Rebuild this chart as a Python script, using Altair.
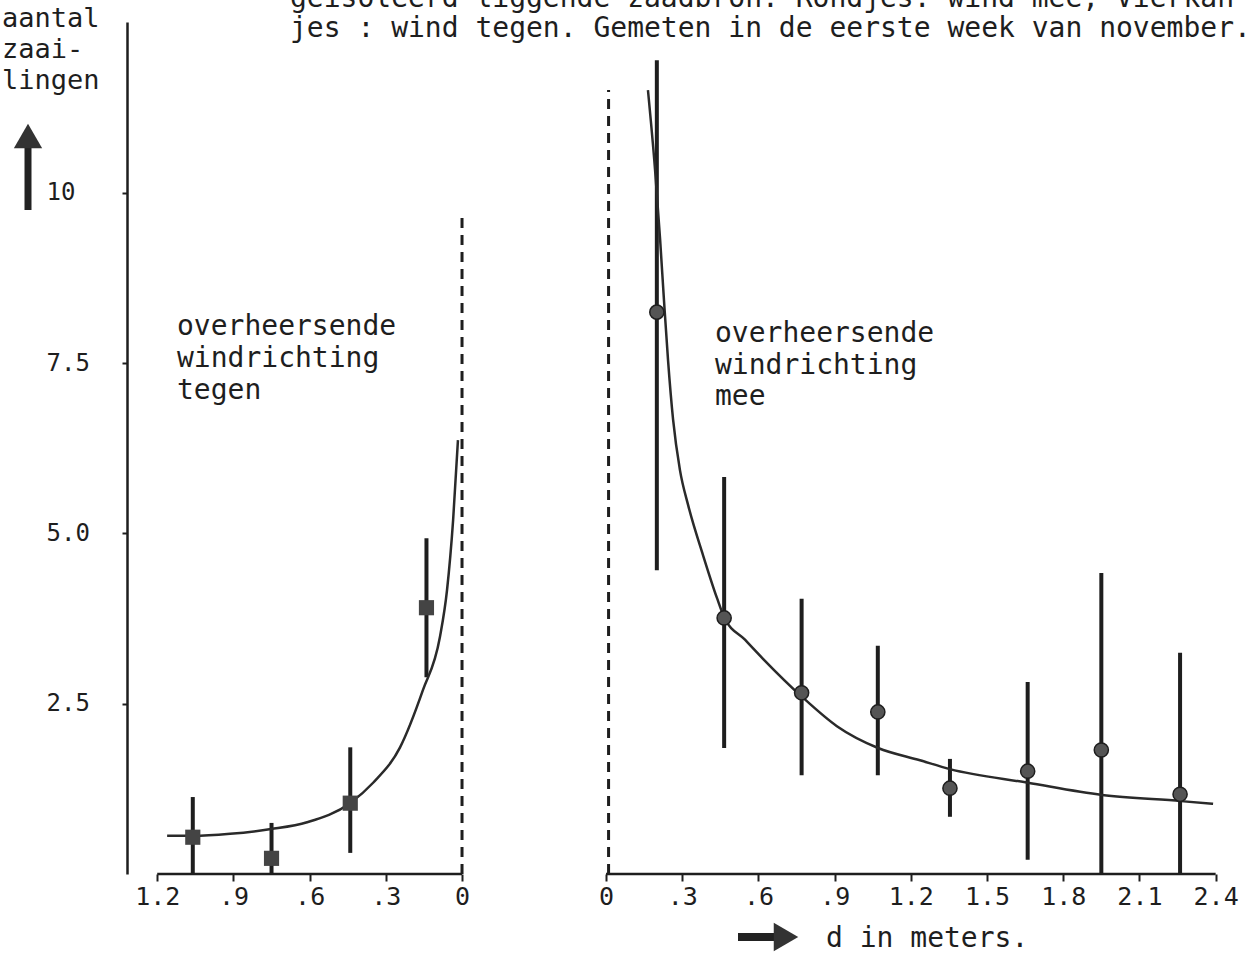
import altair as alt
import pandas as pd

# ---------------- data ----------------
# right panel: prevailing wind "mee" (circles)
MEE_D = [0.20, 0.465, 0.77, 1.07, 1.354, 1.66, 1.95, 2.26]
MEE_Y = [8.25, 3.76, 2.66, 2.38, 1.26, 1.51, 1.82, 1.17]
MEE_LO = [4.46, 1.85, 1.45, 1.45, 0.84, 0.21, 0.0, 0.0]
MEE_HI = [11.95, 5.83, 4.04, 3.35, 1.69, 2.82, 4.42, 3.25]

# left panel: prevailing wind "tegen" (squares)
TEGEN_D = [1.06, 0.75, 0.44, 0.14]
TEGEN_Y = [0.54, 0.23, 1.04, 3.91]
TEGEN_LO = [0.0, 0.0, 0.31, 2.89]
TEGEN_HI = [1.13, 0.75, 1.86, 4.93]

# fitted curves
TEGEN_CURVE_D = [1.161, 1.059, 0.913, 0.752, 0.610, 0.441, 0.350, 0.244, 0.154, 0.087, 0.059, 0.035, 0.016]
TEGEN_CURVE_Y = [0.56, 0.56, 0.59, 0.66, 0.76, 1.04, 1.34, 1.86, 2.70, 3.48, 4.17, 5.20, 6.37]
MEE_CURVE_D = [0.165, 0.193, 0.213, 0.228, 0.244, 0.264, 0.291, 0.323, 0.382, 0.437, 0.465,
               0.547, 0.618, 0.772, 0.909, 1.071, 1.236, 1.354, 1.661, 1.953, 2.264, 2.390]
MEE_CURVE_Y = [11.51, 10.34, 9.31, 8.43, 7.55, 6.67, 5.93, 5.42, 4.68, 4.05, 3.77,
               3.44, 3.16, 2.60, 2.17, 1.85, 1.67, 1.54, 1.34, 1.16, 1.07, 1.03]

# dashed source lines (d = 0) and their heights
DASH_LEFT_TOP = 9.68
DASH_RIGHT_TOP = 11.51

# axes
X_TICKS_LEFT = [1.2, 0.9, 0.6, 0.3, 0.0]
X_TICK_LABELS_LEFT = ["1.2", ".9", ".6", ".3", "0"]
X_TICKS_RIGHT = [0.0, 0.3, 0.6, 0.9, 1.2, 1.5, 1.8, 2.1, 2.4]
X_TICK_LABELS_RIGHT = ["0", ".3", ".6", ".9", "1.2", "1.5", "1.8", "2.1", "2.4"]
Y_TICKS = [2.5, 5.0, 7.5, 10.0]
Y_TICK_LABELS = ["2.5", "5.0", "7.5", "10"]

TITLE_1 = "geïsoleerd liggende zaadbron. Rondjes: wind mee; Vierkan"
TITLE_2 = "jes : wind tegen. Gemeten in de eerste week van november."
Y_LABEL = "aantal\nzaai-\nlingen"
X_LABEL = "d in meters."
NOTE_LEFT = "overheersende\nwindrichting\ntegen"
NOTE_RIGHT = "overheersende\nwindrichting\nmee"

# ---------------- layout ----------------
GAP = 0.567          # distance (in d units) between the two panel origins
U_MIN, U_MAX = -1.886, 2.555
Y_MAX = 12.51
W, H = 1128, 852
PAD = {"left": 127, "top": 22, "right": 5, "bottom": 80}
INK = "#1e1e1e"
FONT = "DejaVu Sans Mono"


def left_u(d):
    return -GAP - d


# tables
pts_mee = pd.DataFrame({"u": MEE_D, "v": MEE_Y, "lo": MEE_LO, "hi": MEE_HI})
pts_teg = pd.DataFrame({"u": [left_u(d) for d in TEGEN_D], "v": TEGEN_Y,
                        "lo": TEGEN_LO, "hi": TEGEN_HI})
curve_mee = pd.DataFrame({"u": MEE_CURVE_D, "v": MEE_CURVE_Y})
curve_teg = pd.DataFrame({"u": [left_u(d) for d in TEGEN_CURVE_D], "v": TEGEN_CURVE_Y})
axis_lines = pd.DataFrame({"u": [left_u(X_TICKS_LEFT[0]), X_TICKS_RIGHT[0]],
                           "u2": [left_u(X_TICKS_LEFT[-1]), X_TICKS_RIGHT[-1]],
                           "v": [0.0, 0.0]})
dash_lines = pd.DataFrame({"u": [left_u(0.0), 0.01], "v": [0.0, 0.0],
                           "v2": [DASH_LEFT_TOP, DASH_RIGHT_TOP]})

tick_u = [left_u(d) for d in X_TICKS_LEFT] + X_TICKS_RIGHT
tick_lab = X_TICK_LABELS_LEFT + X_TICK_LABELS_RIGHT
x_expr = " : ".join(f"abs(datum.value - ({u:.4f})) < 0.01 ? '{l}'" for u, l in zip(tick_u, tick_lab)) + " : ''"
y_expr = " : ".join(f"abs(datum.value - {v}) < 0.01 ? '{l}'" for v, l in zip(Y_TICKS, Y_TICK_LABELS)) + " : ''"

x_axis = alt.Axis(values=[round(u, 4) for u in tick_u], labelExpr=x_expr, domain=False, grid=False,
                  ticks=True, tickSize=7, tickWidth=2, tickColor=INK, labelFont=FONT,
                  labelFontSize=25, labelColor=INK, labelPadding=3, title=None, labelFlush=False,
                  labelOverlap=False)
y_axis = alt.Axis(values=Y_TICKS, labelExpr=y_expr, domain=True, domainColor=INK, domainWidth=2.5,
                  grid=False, ticks=True, tickSize=5, tickWidth=2, tickColor=INK,
                  labelAlign="left", labelPadding=76, labelFont=FONT, labelFontSize=24,
                  labelColor=INK, title=None, labelOverlap=False)

X = alt.X("u:Q", scale=alt.Scale(domain=[U_MIN, U_MAX], nice=False, zero=False), axis=x_axis)
Y = alt.Y("v:Q", scale=alt.Scale(domain=[0, Y_MAX], nice=False, zero=False), axis=y_axis)

layers = []

layers.append(alt.Chart(axis_lines).mark_rule(color=INK, strokeWidth=2.5).encode(
    x=X, x2="u2:Q", y=Y))
layers.append(alt.Chart(dash_lines).mark_rule(color=INK, strokeWidth=3, strokeDash=[10, 7]).encode(
    x=X, y=Y, y2="v2:Q"))

for df in (pts_mee, pts_teg):
    layers.append(alt.Chart(df).mark_rule(color=INK, strokeWidth=4).encode(
        x=X, y=alt.Y("lo:Q", scale=alt.Scale(domain=[0, Y_MAX], nice=False, zero=False), axis=y_axis),
        y2="hi:Q"))

layers.append(alt.Chart(curve_teg).mark_line(color="#2a2a2a", strokeWidth=2.5, interpolate="monotone").encode(
    x=X, y=Y, order="u:Q"))
layers.append(alt.Chart(curve_mee).mark_line(color="#2a2a2a", strokeWidth=2.5, interpolate="monotone").encode(
    x=X, y=Y, order="u:Q"))

layers.append(alt.Chart(pts_mee).mark_circle(size=200, color="#555555", stroke=INK, strokeWidth=1.5,
                                             opacity=1).encode(x=X, y=Y))
layers.append(alt.Chart(pts_teg).mark_square(size=230, color="#444444", opacity=1).encode(x=X, y=Y))


def note(text, x, y, size=28, line_height=31):
    df = pd.DataFrame({"t": [text]})
    return alt.Chart(df).mark_text(font=FONT, fontSize=size, color=INK, align="left",
                                   baseline="alphabetic", lineBreak="\n", lineHeight=line_height).encode(
        x=alt.value(x), y=alt.value(y), text="t:N")


layers.append(note(TITLE_1, 163, -15))
layers.append(note(TITLE_2, 163, 15))
layers.append(note(Y_LABEL, -125, 5, size=27, line_height=31))
layers.append(note(NOTE_LEFT, 50, 313, line_height=32))
layers.append(note(NOTE_RIGHT, 588, 320, line_height=31.5))
layers.append(note(X_LABEL, 699, 925))

# arrows
arrow = pd.DataFrame({"a": [0]})
layers.append(alt.Chart(arrow).mark_rule(color="#222222", strokeWidth=7).encode(
    x=alt.value(-99), y=alt.value(125), y2=alt.value(188)))
layers.append(alt.Chart(arrow).mark_point(shape="triangle-up", filled=True, size=800, color="#333333",
                                          opacity=1).encode(x=alt.value(-99), y=alt.value(114)))
layers.append(alt.Chart(arrow).mark_rule(color="#222222", strokeWidth=8).encode(
    x=alt.value(611), x2=alt.value(648), y=alt.value(915)))
layers.append(alt.Chart(arrow).mark_point(shape="triangle-right", filled=True, size=800, color="#333333",
                                          opacity=1).encode(x=alt.value(659), y=alt.value(915)))

chart = alt.layer(*layers).properties(
    width=W, height=H, padding=PAD,
    autosize=alt.AutoSizeParams(type="none"),
    background="white",
).configure_view(stroke=None)

chart.save("out.html", embed_options={"renderer": "svg", "actions": False})
